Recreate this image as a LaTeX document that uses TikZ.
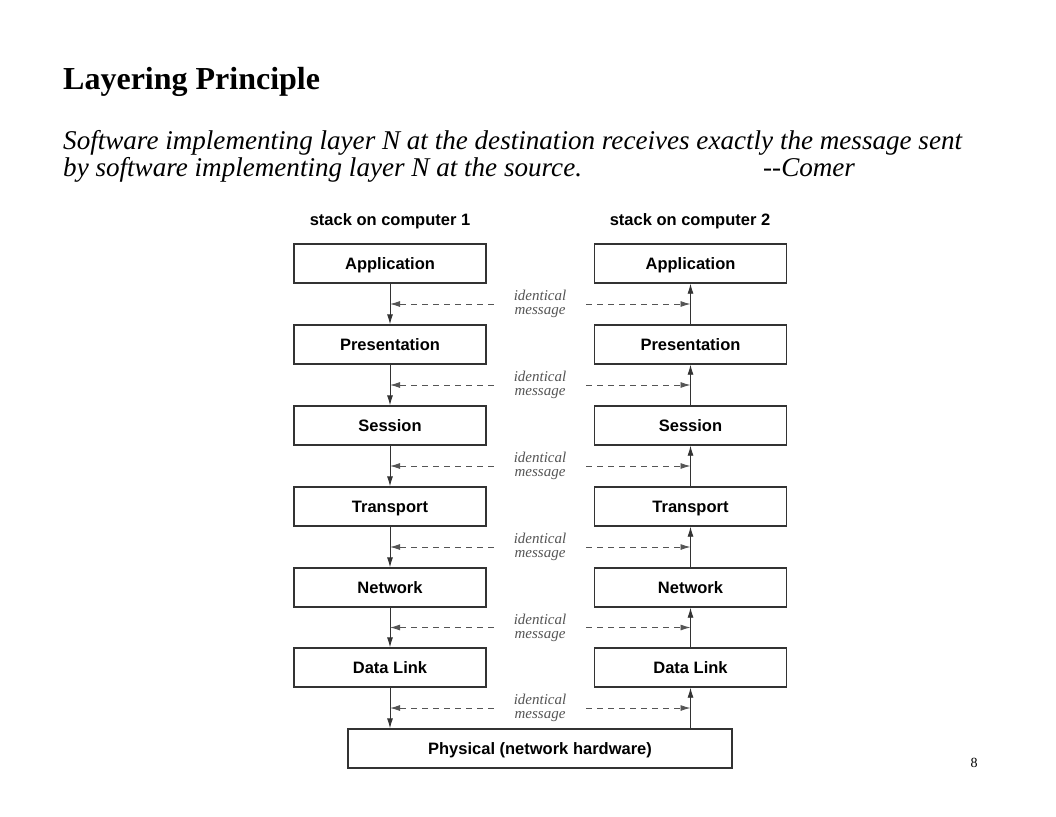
\documentclass[tikz,border=0pt]{standalone}
\usepackage{fontspec}
\setmainfont{Liberation Serif}
\newfontfamily\boxfont{Liberation Sans}
\usetikzlibrary{arrows.meta,calc}
\definecolor{boxline}{HTML}{333333}
\definecolor{msgcol}{HTML}{555555}
\tikzset{
  layerbox/.style={draw=boxline, line width=1.4pt, minimum width=192pt, minimum height=39pt, inner sep=0pt,
    text height=11pt, text depth=0pt, font=\boxfont\bfseries\fontsize{16.5}{18}\selectfont},
  widebox/.style={layerbox, minimum width=384pt},
  stacktitle/.style={font=\boxfont\bfseries\fontsize{16.5}{18}\selectfont, inner sep=0pt},
  msglabel/.style={font=\itshape\fontsize{15}{14}\selectfont, text=msgcol, align=center, inner xsep=20pt, inner ysep=0pt},
  flow/.style={draw=boxline, line width=0.9pt, -{Latex[length=10pt,width=6pt]}},
  peer/.style={draw=msgcol, line width=0.9pt, dash pattern=on 6pt off 5pt, -{Latex[length=10pt,width=6pt]}},
}
\begin{document}
\begin{tikzpicture}[x=1pt,y=-1pt]
\useasboundingbox (0,0) rectangle (1056,816);
% heading texts
\node[anchor=base west, inner sep=0pt, font=\bfseries\fontsize{32}{34}\selectfont] (title) at (63,89) {Layering Principle};
\node[anchor=base west, inner sep=0pt, font=\itshape\fontsize{27.1}{28}\selectfont] (q1) at (63,149) {Software implementing layer N at the destination receives exactly the message sent};
\node[anchor=base west, inner sep=0pt, font=\itshape\fontsize{27.1}{28}\selectfont] (q2) at (63,176) {by software implementing layer N at the source.};
\node[anchor=base west, inner sep=0pt, font=\itshape\fontsize{27.1}{28}\selectfont] (q3) at (763,176) {-{}-Comer};
\node[anchor=base, inner sep=0pt, font=\fontsize{14}{16}\selectfont] (pg) at (974,767) {8};
% stack titles
\node[stacktitle] (t1) at (390,221) {stack on computer 1};
\node[stacktitle] (t2) at (690,221) {stack on computer 2};
% boxes
\foreach \i/\name/\y in {1/Application/263.5, 2/Presentation/344.5, 3/Session/425.5, 4/Transport/506.5, 5/Network/587.5, 6/Data Link/667.5} {
  \node[layerbox] (l\i) at (390,\y) {\name};
  \node[layerbox] (r\i) at (690.5,\y) {\name};
}
\node[widebox] (phys) at (540,748.5) {Physical (network hardware)};
% connectors between layers
\foreach \i/\j in {1/2, 2/3, 3/4, 4/5, 5/6} {
  \draw[flow] (l\i.south) -- (l\j.north);
  \draw[flow] (r\j.north) -- (r\i.south);
  \coordinate (ml\i) at ($(l\i.south)!0.5!(l\j.north)$);
  \coordinate (mr\i) at ($(r\i.south)!0.5!(r\j.north)$);
  \node[msglabel] (m\i) at (540,0 |- ml\i) {identical\\message};
  \draw[peer] (m\i.west |- ml\i) -- (ml\i);
  \draw[peer] (m\i.east |- mr\i) -- (mr\i);
}
% bottom level to physical
\coordinate (pl) at (l6.south |- phys.north);
\coordinate (pr) at (r6.south |- phys.north);
\draw[flow] (l6.south) -- (pl);
\draw[flow] (pr) -- (r6.south);
\coordinate (ml6) at ($(l6.south)!0.5!(pl)$);
\coordinate (mr6) at ($(r6.south)!0.5!(pr)$);
\node[msglabel] (m6) at (540,0 |- ml6) {identical\\message};
\draw[peer] (m6.west |- ml6) -- (ml6);
\draw[peer] (m6.east |- mr6) -- (mr6);
\end{tikzpicture}
\end{document}
